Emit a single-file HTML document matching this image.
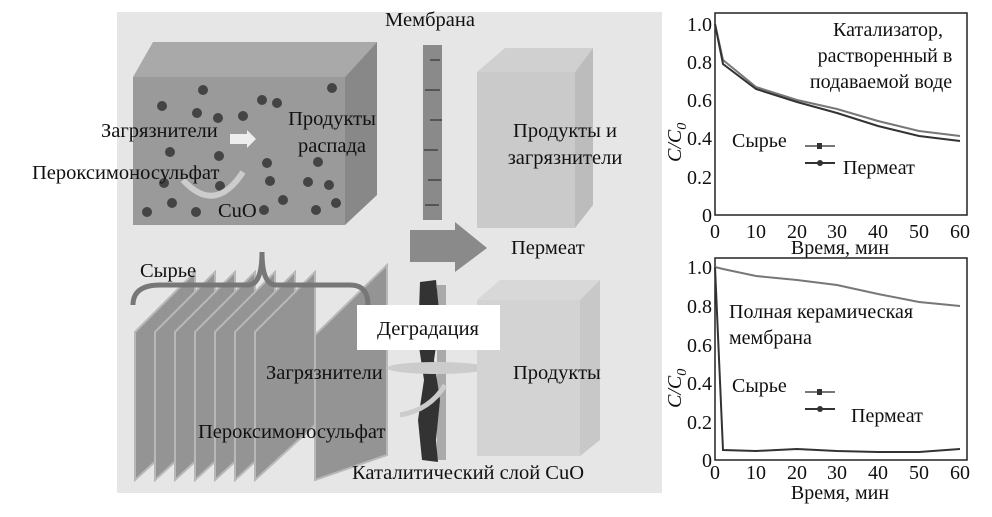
<!DOCTYPE html>
<html><head><meta charset="utf-8"><style>
html,body{margin:0;padding:0;background:#fff;}
svg{display:block;font-family:"Liberation Serif",serif;}
</style></head><body>
<svg width="992" height="517" viewBox="0 0 992 517" xmlns="http://www.w3.org/2000/svg">
<rect width="992" height="517" fill="#fff"/>
<rect x="117" y="12" width="545" height="481" fill="#e6e6e6"/>
<!-- top box -->
<polygon points="133,77 153,42 377,42 345,77" fill="#a9a9a9"/>
<polygon points="345,77 377,42 377,195 345,225" fill="#888"/>
<rect x="133" y="77" width="212" height="148" fill="#9a9a9a"/>
<g fill="#444">
<circle cx="162" cy="106" r="5"/><circle cx="203" cy="90" r="5"/><circle cx="197" cy="113" r="5"/><circle cx="218" cy="118" r="5"/><circle cx="243" cy="116" r="5"/><circle cx="262" cy="100" r="5"/><circle cx="277" cy="103" r="5"/><circle cx="332" cy="88" r="5"/><circle cx="170" cy="152" r="5"/><circle cx="219" cy="156" r="5"/><circle cx="164" cy="183" r="5"/><circle cx="147" cy="212" r="5"/><circle cx="172" cy="203" r="5"/><circle cx="196" cy="212" r="5"/><circle cx="264" cy="210" r="5"/><circle cx="283" cy="200" r="5"/><circle cx="316" cy="210" r="5"/><circle cx="336" cy="203" r="5"/><circle cx="308" cy="182" r="5"/><circle cx="270" cy="181" r="5"/><circle cx="318" cy="162" r="5"/><circle cx="329" cy="185" r="5"/><circle cx="267" cy="163" r="5"/><circle cx="220" cy="186" r="5"/>
</g>
<polygon points="230,134 247,134 247,130 256,139 247,148 247,144 230,144" fill="#eee"/>
<path d="M183,180 Q215,215 243,172" fill="none" stroke="#ccc" stroke-width="6"/>
<!-- membrane top -->
<rect x="423" y="45" width="19" height="175" fill="#8a8a8a"/>
<g stroke="#555" stroke-width="2"><line x1="430" y1="60" x2="440" y2="60"/><line x1="425" y1="90" x2="440" y2="90"/><line x1="430" y1="120" x2="442" y2="120"/><line x1="424" y1="150" x2="438" y2="150"/><line x1="428" y1="180" x2="441" y2="180"/><line x1="425" y1="205" x2="439" y2="205"/></g>
<!-- right top box -->
<polygon points="477,72 505,48 593,48 575,72" fill="#d0d0d0"/>
<polygon points="575,72 593,48 593,205 575,228" fill="#bcbcbc"/>
<rect x="477" y="72" width="98" height="156" fill="#cacaca"/>
<!-- arrow -->
<polygon points="410,230 455,230 455,222 487,248 455,272 455,262 410,262" fill="#8a8a8a"/>
<!-- bottom plates -->
<g fill="#949494" stroke="#b8b8b8" stroke-width="2">
<polygon points="135,332 195,272 195,425 135,480"/>
<polygon points="155,332 215,272 215,425 155,480"/>
<polygon points="175,332 235,272 235,425 175,480"/>
<polygon points="195,332 255,272 255,425 195,480"/>
<polygon points="215,332 275,272 275,425 215,480"/>
<polygon points="235,332 295,272 295,425 235,480"/>
<polygon points="255,332 315,272 315,425 255,480"/>
<polygon points="315,335 387,265 387,455 315,480"/>
</g>
<path d="M133,305 Q133,285 160,285 L248,285 Q262,285 262,252 Q262,285 276,285 L350,285 Q368,285 368,305" fill="none" stroke="#777" stroke-width="5"/>
<!-- membrane bottom -->
<rect x="437" y="285" width="9" height="175" fill="#aaa"/>
<path d="M420,282 L436,280 L440,320 L434,360 L440,400 L436,440 L438,462 L422,460 L418,420 L424,380 L418,340 Z" fill="#333"/>
<ellipse cx="437" cy="368" rx="50" ry="6" fill="#ccc"/>
<path d="M400,415 Q430,410 445,385" fill="none" stroke="#ccc" stroke-width="5"/>
<!-- products box bottom -->
<polygon points="477,300 500,280 600,280 580,300" fill="#d8d8d8"/>
<polygon points="580,300 600,280 600,440 580,456" fill="#c8c8c8"/>
<rect x="477" y="300" width="103" height="156" fill="#d3d3d3"/>
<rect x="357" y="305" width="143" height="45" fill="#fff"/>
<!-- diagram text -->
<g font-size="20.5" fill="#111">
<text x="430" y="26" text-anchor="middle">Мембрана</text>
<text x="101" y="137">Загрязнители</text>
<text x="332" y="125" text-anchor="middle">Продукты</text>
<text x="332" y="152" text-anchor="middle">распада</text>
<text x="32" y="179">Пероксимоносульфат</text>
<text x="218" y="217">CuO</text>
<text x="140" y="277">Сырье</text>
<text x="565" y="137" text-anchor="middle">Продукты и</text>
<text x="565" y="164" text-anchor="middle">загрязнители</text>
<text x="511" y="254">Пермеат</text>
<text x="428" y="335" text-anchor="middle">Деградация</text>
<text x="266" y="379">Загрязнители</text>
<text x="513" y="379">Продукты</text>
<text x="198" y="438">Пероксимоносульфат</text>
<text x="352" y="479">Каталитический слой CuO</text>
</g>
<!-- charts -->
<g font-size="20" fill="#111">
<rect x="715" y="13" width="252" height="202" fill="none" stroke="#222" stroke-width="1.5"/>
<g text-anchor="end"><text x="712" y="31">1.0</text><text x="712" y="69">0.8</text><text x="712" y="107">0.6</text><text x="712" y="145">0.4</text><text x="712" y="184">0.2</text><text x="712" y="222">0</text></g>
<g text-anchor="middle"><text x="715" y="238">0</text><text x="756" y="238">10</text><text x="797" y="238">20</text><text x="837" y="238">30</text><text x="878" y="238">40</text><text x="919" y="238">50</text><text x="960" y="238">60</text>
<text x="840" y="254">Время, мин</text></g>
<text transform="translate(681,162) rotate(-90)" font-style="italic">C/C<tspan font-size="14" dy="5">0</tspan></text>
<text x="888" y="36" text-anchor="middle">Катализатор,</text>
<text x="885" y="62" text-anchor="middle">растворенный в</text>
<text x="881" y="88" text-anchor="middle">подаваемой воде</text>
<text x="732" y="147">Сырье</text>
<text x="843" y="174">Пермеат</text>
<polyline points="715,24 723,60 756,87 797,100 837,109 878,121 919,131 960,136" fill="none" stroke="#777" stroke-width="2"/>
<polyline points="715,24 723,64 756,89 797,102 837,113 878,126 919,136 960,141" fill="none" stroke="#333" stroke-width="2"/>
<line x1="805" y1="146" x2="835" y2="146" stroke="#777" stroke-width="2"/><rect x="817" y="143" width="5" height="6" fill="#333"/>
<line x1="805" y1="163" x2="835" y2="163" stroke="#333" stroke-width="2"/><circle cx="820" cy="163" r="3" fill="#333"/>
<rect x="715" y="258" width="252" height="202" fill="none" stroke="#222" stroke-width="1.5"/>
<g text-anchor="end"><text x="712" y="274">1.0</text><text x="712" y="313">0.8</text><text x="712" y="352">0.6</text><text x="712" y="390">0.4</text><text x="712" y="429">0.2</text><text x="712" y="467">0</text></g>
<g text-anchor="middle"><text x="715" y="479">0</text><text x="756" y="479">10</text><text x="797" y="479">20</text><text x="837" y="479">30</text><text x="878" y="479">40</text><text x="919" y="479">50</text><text x="960" y="479">60</text>
<text x="840" y="499">Время, мин</text></g>
<text transform="translate(681,408) rotate(-90)" font-style="italic">C/C<tspan font-size="14" dy="5">0</tspan></text>
<text x="729" y="318">Полная керамическая</text>
<text x="729" y="344">мембрана</text>
<text x="732" y="392">Сырье</text>
<text x="851" y="422">Пермеат</text>
<polyline points="715,267 723,269 756,276 797,280 837,285 878,294 919,302 960,306" fill="none" stroke="#777" stroke-width="2"/>
<polyline points="715,267 723,450 756,451 797,449 837,451 878,452 919,452 960,449" fill="none" stroke="#333" stroke-width="2"/>
<line x1="805" y1="392" x2="835" y2="392" stroke="#777" stroke-width="2"/><rect x="817" y="389" width="5" height="6" fill="#333"/>
<line x1="805" y1="409" x2="835" y2="409" stroke="#333" stroke-width="2"/><circle cx="820" cy="409" r="3" fill="#333"/>
</g>
</svg>
</body></html>
